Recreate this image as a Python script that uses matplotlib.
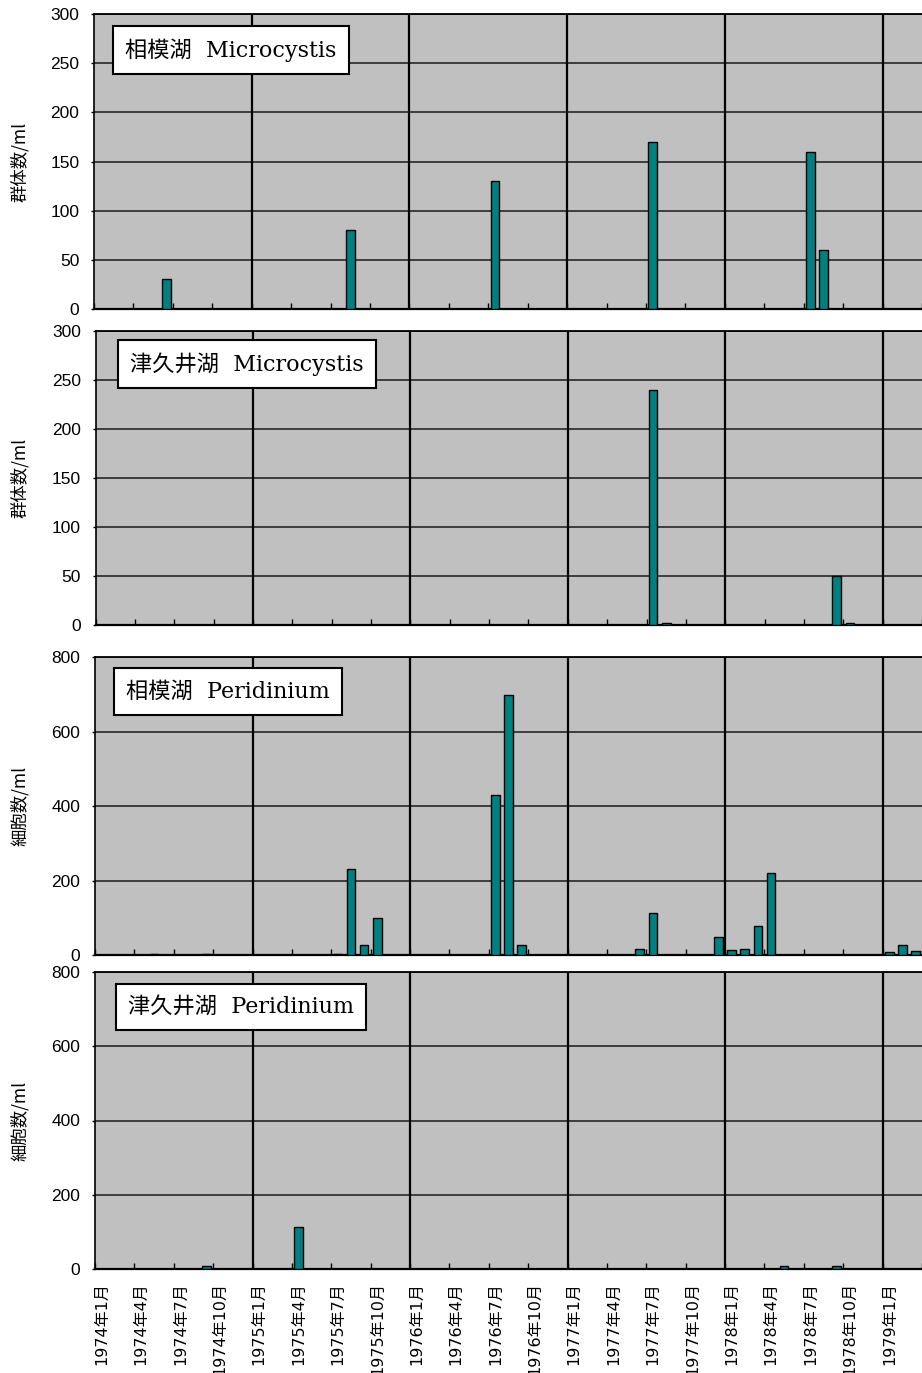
import numpy as np
import matplotlib
matplotlib.use('Agg')
import matplotlib.pyplot as plt

# 月のカテゴリ (1974年1月 〜 1979年3月)
years = [1974, 1975, 1976, 1977, 1978, 1979]
months = [f'{y}年{m}月' for y in years for m in range(1, 13)][:63]

# 各パネルのデータ (月, 値)
sagami_mc_months = ['1974年6月', '1975年8月', '1976年7月', '1977年7月', '1978年7月', '1978年8月']
sagami_mc_vals = [30, 80, 130, 170, 160, 60]

tsukui_mc_months = ['1977年7月', '1977年8月', '1978年9月', '1978年10月']
tsukui_mc_vals = [240, 2, 50, 2]

sagami_pe_months = ['1974年5月', '1974年9月', '1975年7月', '1975年8月', '1975年9月', '1975年10月',
                    '1976年7月', '1976年8月', '1976年9月', '1977年6月', '1977年7月', '1977年12月',
                    '1978年1月', '1978年2月', '1978年3月', '1978年4月', '1979年1月', '1979年2月',
                    '1979年3月']
sagami_pe_vals = [3, 3, 3, 230, 27, 100, 430, 700, 26, 17, 112, 48, 13, 17, 78, 220, 9, 27, 10]

tsukui_pe_months = ['1974年9月', '1975年4月', '1978年5月', '1978年9月']
tsukui_pe_vals = [9, 113, 9, 9]

titles = ['相模湖  Microcystis', '津久井湖  Microcystis', '相模湖  Peridinium', '津久井湖  Peridinium']
ylabels = ['群体数/ml', '群体数/ml', '細胞数/ml', '細胞数/ml']
yticks_mc = [0, 50, 100, 150, 200, 250, 300]
yticks_pe = [0, 200, 400, 600, 800]

series = [(sagami_mc_months, sagami_mc_vals, yticks_mc),
          (tsukui_mc_months, tsukui_mc_vals, yticks_mc),
          (sagami_pe_months, sagami_pe_vals, yticks_pe),
          (tsukui_pe_months, tsukui_pe_vals, yticks_pe)]

# ピクセル単位の配置 (left, top, bottom, 1ヶ月の幅), タイトル枠のずれ
W, H = 922, 1373
layout = [(94, 14.3, 308.7, 13.21), (95.5, 330.7, 625, 13.23),
          (95, 657.3, 955, 13.27), (95, 971.7, 1269.3, 13.27)]
box_off = [(19, 12), (22, 9), (19, 11), (21, 12)]

fig = plt.figure(figsize=(W / 100, H / 100), dpi=100)

year_pos = [i for i, m in enumerate(months) if m.endswith('年1月') and i > 0]

for k, ((mlist, vals, yt), (left, top, bottom, mw)) in enumerate(zip(series, layout)):
    ax = fig.add_axes([left / W, 1 - bottom / H, (W - left) / W, (bottom - top) / H])
    ax.set_facecolor('#c0c0c0')
    ax.set_axisbelow(True)

    x = [months.index(m) + 0.5 for m in mlist]
    ax.bar(x, vals, width=0.66, color='#008080', edgecolor='black', linewidth=1, zorder=3)

    ax.set_xlim(0, (W - left) / mw)
    ax.set_ylim(0, yt[-1])
    ax.set_yticks(yt)
    ax.grid(axis='y', color='#1a1a1a', linewidth=1.1)
    for yp in year_pos:
        ax.axvline(yp, color='black', linewidth=1.6, zorder=2)

    ax.spines['right'].set_visible(False)
    ax.spines['top'].set_linewidth(1.3)
    ax.spines['left'].set_linewidth(1.2)
    ax.spines['bottom'].set_linewidth(1.6)

    ax.set_xticks(np.arange(0, len(months) + 1, 3))
    ax.set_xticks(np.arange(0.5, len(months), 3), minor=True)
    ax.tick_params(axis='x', which='major', direction='in', length=4, width=1, labelbottom=False)
    ax.tick_params(axis='x', which='minor', length=0, pad=9)
    if k == 3:
        ax.set_xticklabels(months[::3], minor=True, rotation=90, fontsize=11.5,
                           family=['DejaVu Sans', 'Noto Sans CJK JP'], va='top')
    else:
        ax.tick_params(axis='x', which='minor', labelbottom=False)

    ax.tick_params(axis='y', direction='out', length=2.5, width=1, pad=8)
    for lab in ax.get_yticklabels():
        lab.set_family('Liberation Sans')
        lab.set_fontsize(12.5)

    dx, dy = box_off[k]
    pad = 0.55
    fs = 16
    pad_px = pad * fs / 0.72
    ax.annotate(titles[k], xy=(0, 1), xycoords='axes fraction',
                xytext=((dx + pad_px) * 0.72, -(dy + pad_px) * 0.72), textcoords='offset points',
                ha='left', va='top', fontsize=fs,
                family=['DejaVu Serif', 'Noto Sans CJK JP'],
                bbox=dict(boxstyle=f'square,pad={pad}', facecolor='white', edgecolor='black',
                          linewidth=1.5), zorder=5)

    fig.text(20 / W, 1 - (top + bottom) / 2 / H, ylabels[k], rotation=90, ha='center',
             va='center', fontsize=12.5, family=['Noto Sans CJK JP', 'DejaVu Sans'])

fig.savefig('out.png', dpi=100)
